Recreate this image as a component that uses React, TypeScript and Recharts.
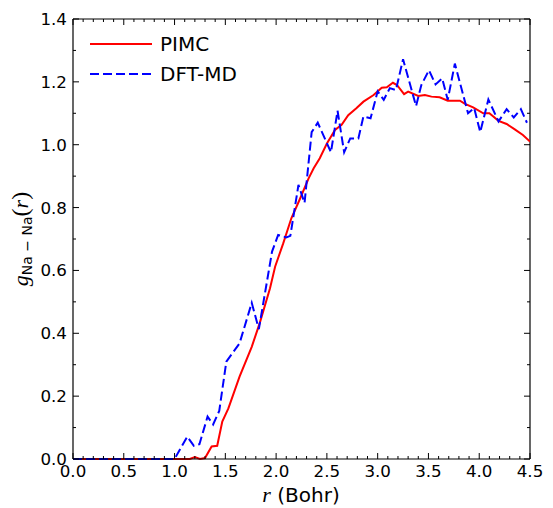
import { LineChart, Line, XAxis, YAxis, Legend, CartesianGrid } from 'recharts'

// PIMC g(r)
const pimcR = [0, 1.15, 1.2, 1.25, 1.3, 1.365, 1.42, 1.47, 1.53, 1.64, 1.76, 1.84, 1.94, 1.99, 2.07, 2.15, 2.23, 2.32, 2.37, 2.43, 2.5, 2.58, 2.645, 2.71, 2.79, 2.86, 2.96, 3.04, 3.09, 3.15, 3.19, 3.26, 3.3, 3.4, 3.465, 3.53, 3.61, 3.69, 3.81, 3.86, 3.94, 4.04, 4.1, 4.19, 4.27, 4.35, 4.43, 4.5]
const pimcG = [0, 0, 0.006, 0, 0.003, 0.04, 0.042, 0.119, 0.161, 0.262, 0.357, 0.434, 0.543, 0.612, 0.686, 0.766, 0.824, 0.893, 0.925, 0.957, 1.004, 1.047, 1.063, 1.094, 1.116, 1.137, 1.158, 1.181, 1.183, 1.197, 1.19, 1.161, 1.169, 1.155, 1.158, 1.153, 1.151, 1.14, 1.14, 1.13, 1.119, 1.1, 1.1, 1.076, 1.066, 1.049, 1.031, 1.01]

// DFT-MD g(r)
const dftR = [0, 1.0, 1.125, 1.19, 1.245, 1.325, 1.38, 1.44, 1.51, 1.64, 1.76, 1.83, 1.96, 2.02, 2.1, 2.14, 2.22, 2.28, 2.35, 2.41, 2.54, 2.605, 2.67, 2.73, 2.81, 2.86, 2.93, 3.0, 3.06, 3.12, 3.18, 3.25, 3.378, 3.43, 3.505, 3.57, 3.635, 3.69, 3.76, 3.89, 3.95, 4.01, 4.09, 4.19, 4.27, 4.34, 4.41, 4.47]
const dftG = [0, 0, 0.071, 0.042, 0.047, 0.135, 0.11, 0.153, 0.31, 0.368, 0.497, 0.413, 0.66, 0.713, 0.705, 0.71, 0.872, 0.815, 1.04, 1.07, 0.976, 1.108, 0.976, 1.02, 1.02, 1.09, 1.084, 1.17, 1.143, 1.18, 1.174, 1.272, 1.123, 1.19, 1.237, 1.192, 1.211, 1.143, 1.258, 1.1, 1.117, 1.04, 1.144, 1.074, 1.113, 1.087, 1.113, 1.07]

const xMajor = [0, 0.5, 1, 1.5, 2, 2.5, 3, 3.5, 4, 4.5]
const yMajor = [0, 0.2, 0.4, 0.6, 0.8, 1.0, 1.2, 1.4]
const X_MAX = 4.5
const Y_MAX = 1.4

const pimcData = pimcR.map((r, i) => ({ r, g: pimcG[i] }))
const dftData = dftR.map((r, i) => ({ r, g: dftG[i] }))

// minor ticks every 0.1
const xTicks = Array.from({ length: 46 }, (_, i) => i / 10)
const yTicks = Array.from({ length: 15 }, (_, i) => i / 10)

const W = 553
const H = 508
const M = { top: 19, right: 23, left: 0, bottom: 0 }
const LEFT_W = 73
const BOTTOM_H = 49
const DASH = '9 4'
const SANS = '"DejaVu Sans", sans-serif'
const SERIF = '"Liberation Serif", "DejaVu Serif", serif'

const isMajor = (v: number, list: number[]) => list.some((m) => Math.abs(m - v) < 1e-6)

const BottomTick = (props: any) => {
  const { x, y, payload } = props
  const major = isMajor(payload.value, xMajor)
  const len = major ? 6 : 3
  return (
    <g>
      <line x1={x} x2={x} y1={y} y2={y - len} stroke="#000" strokeWidth={1} />
      {/* mirrored tick on the top spine */}
      <line x1={x} x2={x} y1={M.top} y2={M.top + len} stroke="#000" strokeWidth={1} />
      {major && (
        <text x={x} y={y + 18} textAnchor="middle" fontSize={16.7} fontFamily={SANS} fill="#000">
          {payload.value.toFixed(1)}
        </text>
      )}
    </g>
  )
}

const LeftTick = (props: any) => {
  const { x, y, payload } = props
  const major = isMajor(payload.value, yMajor)
  const len = major ? 6 : 3
  const xr = W - M.right
  return (
    <g>
      <line x1={x} x2={x + len} y1={y} y2={y} stroke="#000" strokeWidth={1} />
      {/* mirrored tick on the right spine */}
      <line x1={xr} x2={xr - len} y1={y} y2={y} stroke="#000" strokeWidth={1} />
      {major && (
        <text x={x - 6} y={y + 6} textAnchor="end" fontSize={16.7} fontFamily={SANS} fill="#000">
          {payload.value.toFixed(1)}
        </text>
      )}
    </g>
  )
}

const LegendBox = () => (
  <svg width={220} height={70}>
    <line x1={2} x2={64} y1={14} y2={14} stroke="#ff0000" strokeWidth={2} />
    <text x={72} y={21} fontSize={20} fontFamily={SANS} fill="#000">PIMC</text>
    <line x1={2} x2={64} y1={44} y2={44} stroke="#0000ff" strokeWidth={2} strokeDasharray={DASH} />
    <text x={72} y={51} fontSize={20} fontFamily={SANS} fill="#000">DFT-MD</text>
  </svg>
)

const YLabel = () => {
  const cx = 28
  const cy = 239
  return (
    <text transform={`rotate(-90, ${cx}, ${cy})`} x={cx} y={cy} textAnchor="middle" fill="#000" fontSize={20}>
      <tspan fontFamily={SERIF} fontStyle="italic" fontSize={22}>g</tspan>
      <tspan fontFamily={SANS} fontSize={14} dy={4}>Na − Na</tspan>
      <tspan fontFamily={SERIF} fontSize={24} dy={-4}>(</tspan>
      <tspan fontFamily={SERIF} fontStyle="italic" fontSize={22}>r</tspan>
      <tspan fontFamily={SERIF} fontSize={24}>)</tspan>
    </text>
  )
}

const XLabel = () => (
  <text x={301} y={502} textAnchor="middle" fill="#000" fontSize={20}>
    <tspan fontFamily={SERIF} fontStyle="italic" fontSize={22}>r</tspan>
    <tspan fontFamily={SANS}> (Bohr)</tspan>
  </text>
)

export default function App() {
  return (
    <div style={{ position: 'absolute', left: 0, top: 0, width: W, height: H, background: '#fff' }}>
      <LineChart width={W} height={H} margin={M}>
        {/* top and right spines */}
        <CartesianGrid
          stroke="#000"
          strokeWidth={1.2}
          horizontalCoordinatesGenerator={(p: any) => [p.offset.top]}
          verticalCoordinatesGenerator={(p: any) => [p.offset.left + p.offset.width]}
        />
        <XAxis
          type="number"
          dataKey="r"
          domain={[0, X_MAX]}
          allowDataOverflow
          ticks={xTicks}
          interval={0}
          height={BOTTOM_H}
          tickSize={0}
          tickMargin={0}
          tickLine={false}
          axisLine={{ stroke: '#000', strokeWidth: 1.2 }}
          tick={<BottomTick />}
          label={<XLabel />}
        />
        <YAxis
          type="number"
          domain={[0, Y_MAX]}
          ticks={yTicks}
          interval={0}
          width={LEFT_W}
          tickSize={0}
          tickMargin={0}
          tickLine={false}
          axisLine={{ stroke: '#000', strokeWidth: 1.2 }}
          tick={<LeftTick />}
          label={<YLabel />}
        />
        <Legend
          layout="vertical"
          align="center"
          verticalAlign="middle"
          content={<LegendBox />}
          wrapperStyle={{ position: 'absolute', left: 88, top: 30, width: 220, height: 70 }}
        />
        <Line
          data={pimcData}
          dataKey="g"
          type="linear"
          stroke="#ff0000"
          strokeWidth={2}
          dot={false}
          activeDot={false}
          isAnimationActive={false}
        />
        <Line
          data={dftData}
          dataKey="g"
          type="linear"
          stroke="#0000ff"
          strokeWidth={2}
          strokeDasharray={DASH}
          dot={false}
          activeDot={false}
          isAnimationActive={false}
        />
      </LineChart>
    </div>
  )
}
